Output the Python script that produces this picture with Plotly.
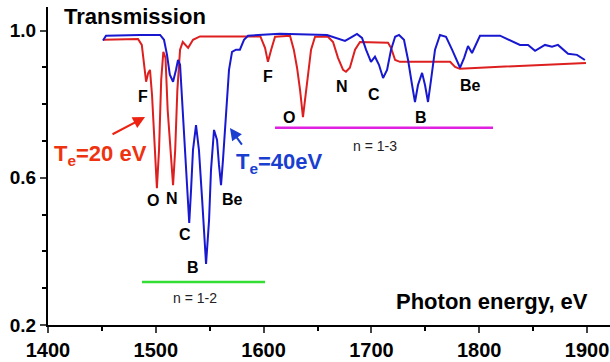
import plotly.graph_objects as go

# Te = 20 eV (red)
red_x = [1451, 1483.5, 1487, 1491, 1493, 1494.6, 1496.5, 1499, 1501, 1503, 1505, 1507, 1509, 1511, 1514,
         1516, 1518, 1520, 1522.5, 1525, 1530, 1534.5, 1541, 1597, 1601.3, 1604, 1607, 1610.6, 1624.5,
         1628, 1631, 1633.8, 1636.5, 1638.4, 1641, 1644, 1647.7, 1659.7, 1664.4, 1669, 1673.7, 1676.4,
         1680, 1684.8, 1689.4, 1715.4, 1718.2, 1722, 1726.5, 1773, 1777.6, 1782, 1800.7, 1899]
red_y = [0.975, 0.977, 0.961, 0.861, 0.885, 0.893, 0.825, 0.676, 0.572, 0.676, 0.866, 0.942, 0.926, 0.784,
         0.648, 0.580, 0.676, 0.839, 0.948, 0.969, 0.953, 0.975, 0.984, 0.984, 0.953, 0.915, 0.948, 0.983,
         0.986, 0.948, 0.899, 0.839, 0.765, 0.812, 0.888, 0.948, 0.983, 0.983, 0.969, 0.926, 0.893, 0.888,
         0.899, 0.948, 0.969, 0.967, 0.953, 0.920, 0.915, 0.915, 0.901, 0.896, 0.899, 0.912]

# Te = 40 eV (blue)
blue_x = [1451, 1453.8, 1485, 1504, 1507.6, 1510.4, 1513, 1516, 1518.7, 1520.6, 1522.5, 1525, 1528, 1531,
          1532.7, 1534.5, 1537.3, 1540, 1543, 1546.6, 1549.4, 1551.2, 1554, 1556.8, 1558.6, 1560.5, 1562.3,
          1565.1, 1567.9, 1570.7, 1574.4, 1578, 1581.8, 1585.5, 1615, 1658.8, 1666.2, 1675.5, 1682, 1686.6,
          1691.3, 1695, 1699.6, 1703.3, 1707, 1710.8, 1714.5, 1718.2, 1722, 1725.6, 1730.2, 1734, 1737.7,
          1740.4, 1743.2, 1747, 1749.7, 1752.5, 1755.3, 1759, 1763.6, 1769.2, 1774.8, 1779.4, 1782.2, 1786,
          1789.6, 1793.3, 1797, 1800.7, 1819.3, 1831.4, 1837.8, 1845.3, 1851.8, 1861, 1867.5, 1873, 1882.4,
          1890.7, 1898]
blue_y = [0.973, 0.986, 0.988, 0.988, 0.975, 0.934, 0.880, 0.861, 0.893, 0.920, 0.907, 0.784, 0.621, 0.477,
          0.567, 0.676, 0.743, 0.676, 0.540, 0.366, 0.485, 0.621, 0.730, 0.703, 0.635, 0.580, 0.648,
          0.784, 0.893, 0.942, 0.948, 0.948, 0.975, 0.986, 0.991, 0.988, 0.980, 0.972, 0.983, 0.991,
          0.980, 0.948, 0.915, 0.929, 0.907, 0.871, 0.893, 0.948, 0.983, 0.988, 0.975, 0.920, 0.852,
          0.806, 0.852, 0.885, 0.852, 0.806, 0.866, 0.948, 0.988, 0.983, 0.948, 0.915, 0.899, 0.926,
          0.958, 0.939, 0.961, 0.986, 0.986, 0.969, 0.961, 0.961, 0.945, 0.961, 0.956, 0.961, 0.937,
          0.934, 0.920]

# Line identification labels
label_text = ["F", "O", "N", "C", "B", "Be", "F", "O", "N", "C", "B", "Be"]
label_x = [1488, 1497.4, 1515, 1527, 1534.5, 1570.7, 1604, 1623.6, 1672.7, 1702.4, 1746, 1791.5]
label_y = [0.820, 0.537, 0.545, 0.447, 0.357, 0.540, 0.874, 0.763, 0.847, 0.825, 0.763, 0.852]

# n = 1-2 and n = 1-3 bands
band12_x = [1487.2, 1601.3]
band12_y = 0.317
band13_x = [1610.6, 1812.8]
band13_y = 0.736

x_ticks = [1400, 1500, 1600, 1700, 1800, 1900]
y_ticks = [0.2, 0.6, 1.0]

FONT = "Liberation Sans, Arial, sans-serif"

fig = go.Figure()
fig.add_trace(go.Scatter(x=red_x, y=red_y, mode="lines",
                         line=dict(color="#dd1f1f", width=2), showlegend=False))
fig.add_trace(go.Scatter(x=blue_x, y=blue_y, mode="lines",
                         line=dict(color="#1818d0", width=2), showlegend=False))
fig.add_trace(go.Scatter(x=band12_x, y=[band12_y] * 2, mode="lines",
                         line=dict(color="#33dd33", width=2.5), showlegend=False))
fig.add_trace(go.Scatter(x=band13_x, y=[band13_y] * 2, mode="lines",
                         line=dict(color="#e020e0", width=2.5), showlegend=False))

annotations = []
for t, x, y in zip(label_text, label_x, label_y):
    annotations.append(dict(x=x, y=y, text=t, showarrow=False,
                            font=dict(family=FONT, size=16, color="black", weight="bold")))

annotations += [
    dict(x=1536.4, y=0.273, text="n = 1-2", showarrow=False,
         font=dict(family=FONT, size=14, color="#222222")),
    dict(x=1703.3, y=0.687, text="n = 1-3", showarrow=False,
         font=dict(family=FONT, size=14, color="#222222")),
    dict(x=1413, y=1.037, text="Transmission", showarrow=False, xanchor="left",
         font=dict(family=FONT, size=22, color="black", weight="bold")),
    dict(x=1903, y=0.265, text="Photon energy, eV", showarrow=False, xanchor="right",
         font=dict(family=FONT, size=22, color="black", weight="bold")),
    dict(x=1448.7, y=0.663, text="T<sub>e</sub>=20 eV", showarrow=False,
         font=dict(family=FONT, size=22, color="#ee3311", weight="bold")),
    dict(x=1615, y=0.639, text="T<sub>e</sub>=40eV", showarrow=False,
         font=dict(family=FONT, size=22, color="#1a3fd0", weight="bold")),
    dict(x=1490, y=0.765, text="", showarrow=True, ax=-34, ay=18,
         arrowhead=2, arrowsize=1.2, arrowwidth=2, arrowcolor="#ee2211"),
    dict(x=1568.8, y=0.735, text="", showarrow=True, ax=13, ay=18,
         arrowhead=2, arrowsize=1.2, arrowwidth=2, arrowcolor="#1a3fd0"),
]

fig.update_layout(
    width=610, height=362,
    margin=dict(l=48, r=0, t=7, b=37),
    paper_bgcolor="white", plot_bgcolor="white",
    annotations=annotations,
    xaxis=dict(range=[1400, 1921.3], tickvals=x_ticks, ticks="outside", ticklen=6, tickwidth=2,
               showline=True, linecolor="black", linewidth=2, showgrid=False, zeroline=False,
               tickfont=dict(family=FONT, size=20, color="black", weight="bold"),
               minor=dict(dtick=50, tick0=1400, ticks="outside", ticklen=4, tickwidth=1.5, tickcolor="black")),
    yaxis=dict(range=[0.2, 1.064], tickvals=y_ticks, ticktext=["0.2", "0.6", "1.0"], ticks="outside",
               ticklen=6, tickwidth=2,
               showline=True, linecolor="black", linewidth=2, showgrid=False, zeroline=False,
               tickfont=dict(family=FONT, size=19, color="black", weight="bold"),
               minor=dict(dtick=0.1, tick0=0.2, ticks="outside", ticklen=4, tickwidth=1.5, tickcolor="black")),
)

fig.write_html("out.html", config={"displayModeBar": False},
               post_script="document.body.style.margin='0px';document.body.style.overflow='hidden';")
